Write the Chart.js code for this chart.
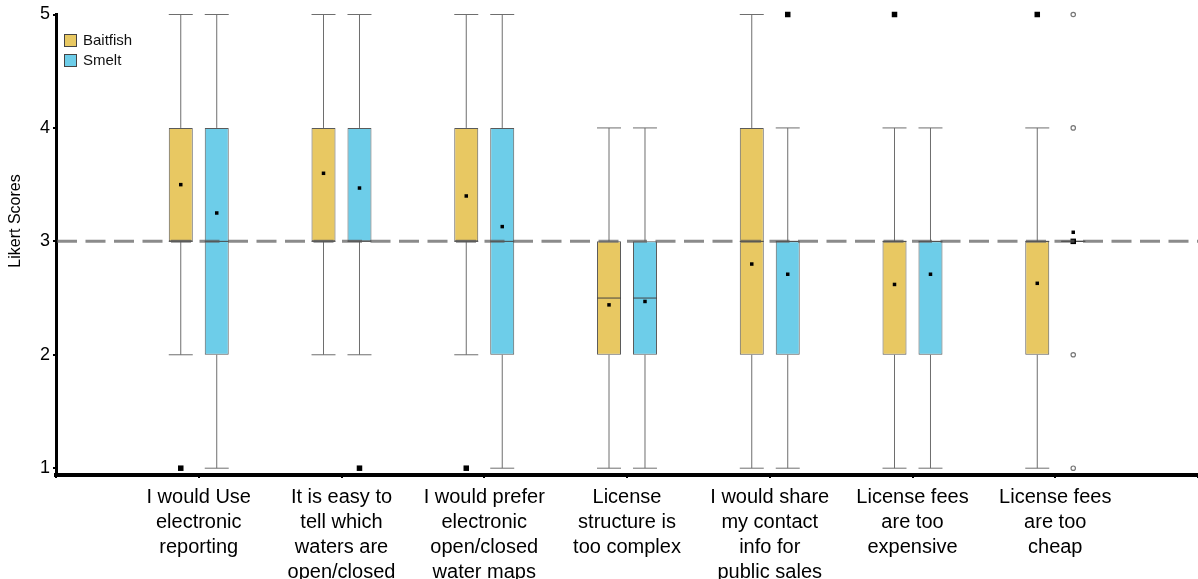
<!DOCTYPE html>
<html>
<head>
<meta charset="utf-8">
<script src="https://cdn.jsdelivr.net/npm/chart.js@4.4.0/dist/chart.umd.min.js"></script>
<style>
  html, body { margin: 0; padding: 0; background: #fff; }
  #wrap { width: 1198px; height: 579px; }
</style>
</head>
<body>
<div id="wrap"><canvas id="chart-box"></canvas></div>
<script>
// survey items (x categories)
const categories = [
  ['I would Use', 'electronic', 'reporting'],
  ['It is easy to', 'tell which', 'waters are', 'open/closed'],
  ['I would prefer', 'electronic', 'open/closed', 'water maps'],
  ['License', 'structure is', 'too complex'],
  ['I would share', 'my contact', 'info for', 'public sales'],
  ['License fees', 'are too', 'expensive'],
  ['License fees', 'are too', 'cheap']
];
const yTicks = [1, 2, 3, 4, 5];
const refLine = 3;

// Baitfish
const baitQ1 = [3, 3, 3, 2, 2, 2, 2];
const baitQ3 = [4, 4, 4, 3, 4, 3, 3];
const baitMed = [3, 3, 3, 2.5, 3, 3, 3];
const baitLo = [2, 2, 2, 1, 1, 1, 1];
const baitHi = [5, 5, 5, 4, 5, 4, 4];
const baitMean = [3.50, 3.60, 3.40, 2.44, 2.80, 2.62, 2.63];
const baitExtreme = [[1], [], [1], [], [], [5], [5]];
const baitOutlier = [[], [], [], [], [], [], []];

// Smelt
const smeltQ1 = [2, 3, 2, 2, 2, 2, 3];
const smeltQ3 = [4, 4, 4, 3, 3, 3, 3];
const smeltMed = [3, 3, 3, 2.5, 3, 3, 3];
const smeltLo = [1, 2, 1, 1, 1, 1, 3];
const smeltHi = [5, 5, 5, 4, 4, 4, 3];
const smeltMean = [3.25, 3.47, 3.13, 2.47, 2.71, 2.71, 3.08];
const smeltExtreme = [[], [1], [], [], [5], [], [3]];
const smeltOutlier = [[], [], [], [], [], [], [1, 2, 4, 5]];

const FONT = 'Liberation Sans, Arial, sans-serif';

const stats = [
  { q1: baitQ1, q3: baitQ3, med: baitMed, lo: baitLo, hi: baitHi, mean: baitMean, ext: baitExtreme, out: baitOutlier },
  { q1: smeltQ1, q3: smeltQ3, med: smeltMed, lo: smeltLo, hi: smeltHi, mean: smeltMean, ext: smeltExtreme, out: smeltOutlier }
];

// pad with empty slots at both ends so categories sit where the original puts them
const labels = [''].concat(categories, ['']);
function floating(q1, q3) {
  return [null].concat(q1.map((v, i) => [v, q3[i]]), [null]);
}

const boxExtras = {
  id: 'boxExtras',
  afterDatasetsDraw(chart) {
    const ctx = chart.ctx;
    const y = chart.scales.y;
    const area = chart.chartArea;
    ctx.save();
    stats.forEach((s, di) => {
      const meta = chart.getDatasetMeta(di);
      meta.data.forEach((bar, i) => {
        const k = i - 1;
        if (k < 0 || k >= categories.length) return;
        const x = bar.x, half = bar.width / 2;
        // whiskers + caps
        ctx.strokeStyle = '#6e6e6e';
        ctx.lineWidth = 1;
        ctx.beginPath();
        ctx.moveTo(x, y.getPixelForValue(s.q3[k]));
        ctx.lineTo(x, y.getPixelForValue(s.hi[k]));
        ctx.moveTo(x, y.getPixelForValue(s.q1[k]));
        ctx.lineTo(x, y.getPixelForValue(s.lo[k]));
        [s.hi[k], s.lo[k]].forEach(v => {
          const py = y.getPixelForValue(v);
          ctx.moveTo(x - half, py);
          ctx.lineTo(x + half, py);
        });
        ctx.stroke();
        // median
        ctx.strokeStyle = '#444';
        ctx.beginPath();
        const pm = y.getPixelForValue(s.med[k]);
        ctx.moveTo(x - half, pm);
        ctx.lineTo(x + half, pm);
        ctx.stroke();
        // mean
        ctx.fillStyle = '#000';
        const pmean = y.getPixelForValue(s.mean[k]);
        ctx.fillRect(x - 1.75, pmean - 1.75, 3.5, 3.5);
        // extremes
        s.ext[k].forEach(v => {
          const py = y.getPixelForValue(v);
          ctx.fillRect(x - 2.75, py - 2.75, 5.5, 5.5);
        });
        // outliers
        ctx.strokeStyle = '#777';
        ctx.lineWidth = 1.2;
        ctx.fillStyle = '#fff';
        s.out[k].forEach(v => {
          const py = y.getPixelForValue(v);
          ctx.beginPath();
          ctx.arc(x, py, 2.2, 0, Math.PI * 2);
          ctx.fill();
          ctx.stroke();
        });
      });
    });
    // dashed neutral line
    const pr = y.getPixelForValue(refLine);
    ctx.strokeStyle = 'rgba(90,90,90,0.7)';
    ctx.lineWidth = 3;
    ctx.setLineDash([20, 8.5]);
    ctx.beginPath();
    ctx.moveTo(area.left + 1, pr);
    ctx.lineTo(area.right, pr);
    ctx.stroke();
    ctx.setLineDash([]);
    ctx.restore();
  },
  afterDraw(chart) {
    const ctx = chart.ctx;
    const area = chart.chartArea;
    ctx.save();
    // legend inside the plot
    chart.data.datasets.forEach((ds, i) => {
      const bx = area.left + 8, by = area.top + 19.5 + i * 20;
      ctx.fillStyle = ds.backgroundColor;
      ctx.fillRect(bx, by, 13, 13);
      ctx.strokeStyle = '#444';
      ctx.lineWidth = 1;
      ctx.strokeRect(bx + 0.5, by + 0.5, 12, 12);
      ctx.fillStyle = '#111';
      ctx.font = '15px ' + FONT;
      ctx.textBaseline = 'middle';
      ctx.textAlign = 'left';
      ctx.fillText(ds.label, bx + 19, by + 7);
    });
    // y axis title
    ctx.translate(16, 221);
    ctx.rotate(-Math.PI / 2);
    ctx.fillStyle = '#000';
    ctx.font = '16px ' + FONT;
    ctx.textAlign = 'center';
    ctx.textBaseline = 'middle';
    ctx.fillText('Likert Scores', 0, 0);
    ctx.restore();
  }
};

const ctx = document.getElementById('chart-box');
const myChart = new Chart(ctx, {
  type: 'bar',
  data: {
    labels: labels,
    datasets: [
      {
        label: 'Baitfish',
        data: floating(baitQ1, baitQ3),
        backgroundColor: '#E8C862',
        borderColor: '#5a5a5a',
        borderWidth: 1,
        borderSkipped: false,
        categoryPercentage: 0.504,
        barPercentage: 0.667
      },
      {
        label: 'Smelt',
        data: floating(smeltQ1, smeltQ3),
        backgroundColor: '#6DCDE9',
        borderColor: '#5a5a5a',
        borderWidth: 1,
        borderSkipped: false,
        categoryPercentage: 0.504,
        barPercentage: 0.667
      }
    ]
  },
  options: {
    responsive: true,
    maintainAspectRatio: false,
    animation: false,
    layout: { padding: { top: 14.5, right: 0, bottom: 0, left: 0 } },
    plugins: {
      legend: { display: false },
      tooltip: { enabled: false }
    },
    scales: {
      x: {
        type: 'category',
        offset: false,
        border: { color: '#000', width: 4 },
        grid: { display: true, drawOnChartArea: false, drawTicks: true, tickLength: 3, color: '#000', lineWidth: 2, offset: false },
        ticks: {
          autoSkip: false, maxRotation: 0, minRotation: 0, padding: 7,
          color: '#000', font: { family: FONT, size: 20, lineHeight: '25px' }
        },
        afterFit(scale) {
          scale.height = 104;
          scale.paddingLeft = 0;
          scale.paddingRight = 0;
        }
      },
      y: {
        min: 0.94,
        max: 5,
        border: { color: '#000', width: 3 },
        grid: { display: true, drawOnChartArea: false, drawTicks: true, tickLength: 3, color: '#000', lineWidth: 2 },
        ticks: { padding: 3, color: '#000', font: { family: FONT, size: 18 } },
        afterBuildTicks(scale) { scale.ticks = yTicks.map(v => ({ value: v })); },
        afterFit(scale) { scale.width = 56; }
      }
    }
  },
  plugins: [boxExtras]
});
</script>
</body>
</html>
